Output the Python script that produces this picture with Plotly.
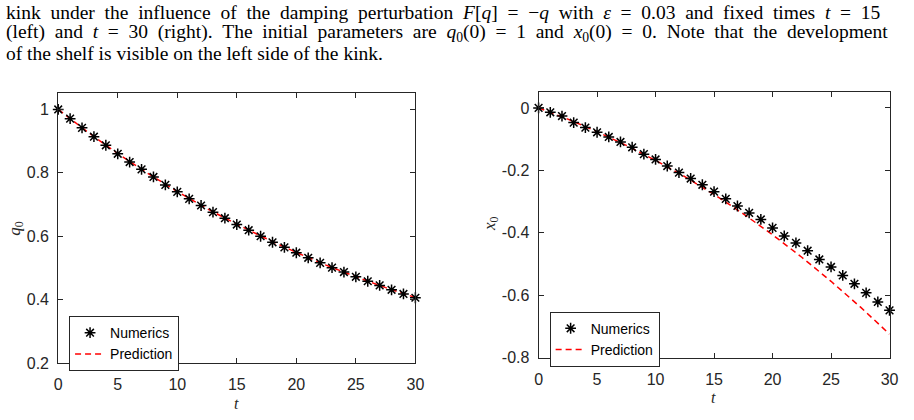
import plotly.graph_objects as go

# ---------------- data ----------------
t_num = list(range(0, 31))
q0_numerics = [1.000, 0.971, 0.942, 0.914, 0.887, 0.860, 0.834, 0.811, 0.787, 0.762,
               0.740, 0.718, 0.697, 0.676, 0.657, 0.637, 0.619, 0.600, 0.581, 0.565,
               0.548, 0.532, 0.516, 0.501, 0.487, 0.472, 0.458, 0.445, 0.431, 0.418, 0.406]
x0_numerics = [0.000, -0.014, -0.026, -0.047, -0.063, -0.078, -0.093, -0.109, -0.126, -0.148,
               -0.165, -0.186, -0.207, -0.226, -0.246, -0.268, -0.291, -0.314, -0.336, -0.357,
               -0.384, -0.410, -0.432, -0.457, -0.485, -0.509, -0.536, -0.563, -0.592, -0.621, -0.648]

t_pred = [0, 2.5, 5, 7.5, 10, 12.5, 15, 17.5, 20, 22.5, 25, 27.5, 30]
q0_prediction = [1.000, 0.928, 0.861, 0.799, 0.741, 0.687, 0.638, 0.592, 0.549, 0.509, 0.472, 0.438, 0.407]
x0_prediction = [0.000, -0.036, -0.076, -0.120, -0.168, -0.220, -0.277, -0.339, -0.406, -0.478, -0.555, -0.637, -0.724]

x_ticks = [0, 5, 10, 15, 20, 25, 30]
x_ticktext = ["0", "5", "10", "15", "20", "25", "30"]
q_ticks = [0.2, 0.4, 0.6, 0.8, 1.0]
q_ticktext = ["0.2", "0.4", "0.6", "0.8", "1"]
x0_ticks = [-0.8, -0.6, -0.4, -0.2, 0.0]
x0_ticktext = ["-0.8", "-0.6", "-0.4", "-0.2", "0"]

caption_lines = [
    "kink under the influence of the damping perturbation <i>F</i>[<i>q</i>] = −<i>q</i> with <i>ε</i> = 0.03 and fixed times <i>t</i> = 15",
    "(left) and <i>t</i> = 30 (right). The initial parameters are <i>q</i><sub>0</sub>(0) = 1 and <i>x</i><sub>0</sub>(0) = 0. Note that the development",
    "of the shelf is visible on the left side of the kink.",
]
caption_justified = [True, True, False]

# ---------------- figure ----------------
W, H = 914, 420
AX = "#262626"
SANS = "Liberation Sans, Arial, sans-serif"
SERIF = "Liberation Serif, Times New Roman, serif"
TICKFONT = dict(family=SANS, size=16, color=AX)

fig = go.Figure()

star = dict(symbol="asterisk-open", size=9, color="black", line=dict(color="black", width=1.5))
pred_line = dict(color="red", width=1.5, dash="6px,4px")

fig.add_trace(go.Scatter(x=t_pred, y=q0_prediction, mode="lines", line=pred_line,
                         name="Prediction", xaxis="x", yaxis="y", legend="legend", cliponaxis=False))
fig.add_trace(go.Scatter(x=t_num, y=q0_numerics, mode="markers", marker=star,
                         name="Numerics", xaxis="x", yaxis="y", legend="legend", cliponaxis=False))
fig.add_trace(go.Scatter(x=t_pred, y=x0_prediction, mode="lines", line=pred_line,
                         name="Prediction", xaxis="x2", yaxis="y2", legend="legend2", cliponaxis=False))
fig.add_trace(go.Scatter(x=t_num, y=x0_numerics, mode="markers", marker=star,
                         name="Numerics", xaxis="x2", yaxis="y2", legend="legend2", cliponaxis=False))


def px_x(x):
    return x / W


def px_y(y):
    return (H - y) / H


axis_common = dict(showline=True, linecolor=AX, linewidth=1, mirror="allticks",
                   ticks="inside", ticklen=5, tickcolor=AX, tickwidth=1,
                   showgrid=False, zeroline=False, tickfont=TICKFONT)

legend_common = dict(xanchor="left", yanchor="top", bgcolor="white", bordercolor=AX, borderwidth=1,
                     font=dict(family=SANS, size=14, color="black"),
                     traceorder="reversed", itemwidth=30, tracegroupgap=0)

fig.update_layout(
    width=W, height=H,
    margin=dict(l=0, r=0, t=0, b=0),
    paper_bgcolor="white", plot_bgcolor="white",
    xaxis=dict(domain=[px_x(55), px_x(417.3)], range=[0, 30], anchor="y",
               tickvals=x_ticks, ticktext=x_ticktext, ticklabelstandoff=7, **axis_common),
    yaxis=dict(domain=[px_y(371), px_y(95)], range=[0.2, 1.052], anchor="x",
               tickvals=q_ticks, ticktext=q_ticktext, ticklabelstandoff=5, **axis_common),
    xaxis2=dict(domain=[px_x(542.3), px_x(898.3)], range=[0, 30], anchor="y2",
                tickvals=x_ticks, ticktext=x_ticktext, ticklabelstandoff=7, **axis_common),
    yaxis2=dict(domain=[px_y(365.7), px_y(94.3)], range=[-0.8, 0.05], anchor="x2",
                tickvals=x0_ticks, ticktext=x0_ticktext, ticklabelstandoff=5, **axis_common),
    legend=dict(x=px_x(66), y=px_y(323), **legend_common),
    legend2=dict(x=px_x(553.5), y=px_y(318.5), **legend_common),
    showlegend=True,
)

annotations = []
for i, line in enumerate(caption_lines):
    txt = line.replace(" ", " \u00a0") if caption_justified[i] else line
    annotations.append(dict(text=txt, x=0, y=px_y(13 + 21 * i), xref="paper", yref="paper",
                            xanchor="left", yanchor="middle", showarrow=False,
                            font=dict(family=SERIF, size=19.5, color="black")))
# axis labels
labels = [
    dict(text="<i>q</i><sub>0</sub>", x=px_x(12), y=px_y(233), textangle=-90, size=17),
    dict(text="<i>t</i>", x=px_x(236), y=px_y(412), size=16),
    dict(text="<i>x</i><sub>0</sub>", x=px_x(494), y=px_y(228), textangle=-90, size=17),
    dict(text="<i>t</i>", x=px_x(720), y=px_y(406.5), size=16),
]
for a in labels:
    sz = a.pop("size")
    a.update(xref="paper", yref="paper", xanchor="center", yanchor="middle", showarrow=False,
             font=dict(family=SERIF, size=sz, color=AX))
annotations += labels
fig.update_layout(annotations=annotations)

fig.write_html("out.html")
